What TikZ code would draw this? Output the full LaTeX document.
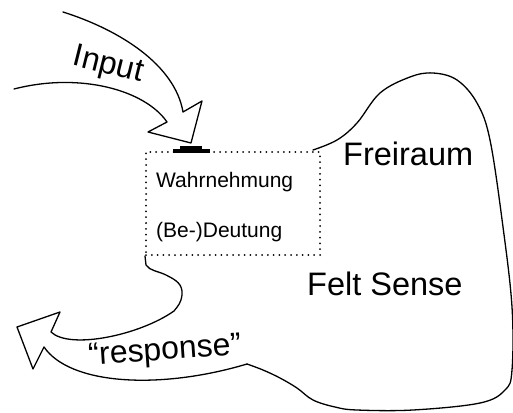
\documentclass[tikz,border=0pt]{standalone}
\usepackage{fontspec}
\setmainfont{Liberation Sans}
\begin{document}
\begin{tikzpicture}[x=1pt,y=-1pt,
  outline/.style={line width=1.3pt,line join=round,line cap=round},
  dotbox/.style={draw,dash pattern=on 0pt off 5.8pt,line cap=round,line width=2pt,
    minimum width=174pt,minimum height=103pt,inner sep=0pt},
  boxtext/.style={font=\fontsize{21}{24}\selectfont,anchor=base west,inner sep=0pt},
  bigtext/.style={font=\fontsize{32.5}{36}\selectfont,anchor=base west,inner sep=0pt},
  arrowtext/.style={font=\fontsize{32}{36}\selectfont,inner sep=0pt}]
\useasboundingbox (0,0) rectangle (513,412);
% dotted box
\node[dotbox] (box) at (233,203.5) {};
\node[boxtext] (wahr) at (156,187) {Wahrnehmung};
\node[boxtext] (deut) at (156,237) {(Be-)Deutung};
% labels
\node[bigtext] (frei) at (343,165) {Freiraum};
\node[bigtext] (felt) at (307,295) {Felt Sense};
\node[arrowtext,rotate=-14] (input) at (108,66) {Input};
\node[arrowtext,rotate=4] (resp) at (165,352) {“response”};
% contact bar
\fill (180,146) rectangle (202,149.5);
\fill (173,149) rectangle (210,152.5);
% input arrow
\draw[outline] (63,12) .. controls (120,30) and (175,65) .. (183,112)
  -- (202,101) -- (191,143) -- (148,132) -- (167,122)
  .. controls (145,90) and (80,72) .. (14,89);
% response arrow + felt sense outline
\draw[outline] (box.south west) -- (146,265)
  .. controls (150,271) and (158,271) .. (166,275)
  .. controls (176,280) and (183,284) .. (182,295)
  .. controls (181,303) and (178,306) .. (174,311)
  .. controls (140,335) and (70,350) .. (51,332)
  -- (60,312) -- (17,327) -- (33,369) -- (44,347)
  .. controls (70,385) and (160,390) .. (247,364);
\draw[outline] plot[smooth,tension=0.6] coordinates {(247,364) (263,370) (280,378) (297,388) (313,400) (335,407) (357,410) (413,410) (480,403) (505,390) (512,370) (512,307) (503,227) (490,140) (477,103) (457,80) (433,73) (410,77) (380,93) (357,123) (337,140) (313,150)};
\end{tikzpicture}
\end{document}
